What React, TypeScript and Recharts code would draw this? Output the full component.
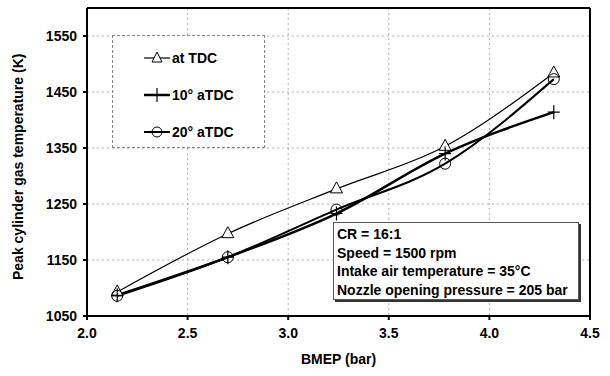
import { ComposedChart, Line, XAxis, YAxis, CartesianGrid, ReferenceLine } from "recharts";

const bmep = [2.15, 2.7, 3.24, 3.78, 4.32];
const atTdc = [1093, 1197, 1277, 1353, 1484];
const deg10 = [1087, 1155, 1233, 1340, 1414];
const deg20 = [1086, 1155, 1240, 1322, 1473];
const xTicks = [2.0, 2.5, 3.0, 3.5, 4.0, 4.5];
const yTicks = [1050, 1150, 1250, 1350, 1450, 1550];
const notes = ["CR = 16:1", "Speed = 1500 rpm", "Intake air temperature = 35°C", "Nozzle opening pressure = 205 bar"];

const data = bmep.map((x, i) => ({ x, tdc: atTdc[i], d10: deg10[i], d20: deg20[i] }));

const font = "'Liberation Sans', Arial, sans-serif";

const Triangle = (props: any) => {
  const { cx, cy } = props;
  if (cx == null || cy == null) return null;
  return <path d={`M${cx},${cy - 7} L${cx + 6},${cy + 4} L${cx - 6},${cy + 4} Z`} fill="#fff" stroke="#000" strokeWidth={1} />;
};

const Plus = (props: any) => {
  const { cx, cy } = props;
  if (cx == null || cy == null) return null;
  return <path d={`M${cx - 6},${cy} H${cx + 6} M${cx},${cy - 7} V${cy + 7}`} stroke="#000" strokeWidth={1.2} fill="none" />;
};

const Ring = (props: any) => {
  const { cx, cy } = props;
  if (cx == null || cy == null) return null;
  return <circle cx={cx} cy={cy} r={5.5} fill="none" stroke="#000" strokeWidth={1} />;
};

const legendItems = [
  { label: "at TDC", icon: "tri", width: 1.2 },
  { label: "10° aTDC", icon: "plus", width: 2.5 },
  { label: "20° aTDC", icon: "ring", width: 2 },
];

export default function App() {
  return (
    <div style={{ position: "absolute", left: 0, top: 0, width: 610, height: 376, background: "#fff" }}>
      <ComposedChart width={610} height={376} data={data} margin={{ top: 8, right: 20, bottom: 0, left: 0 }}>
        <CartesianGrid stroke="#999" strokeDasharray="2 3" strokeWidth={0.8} />
        <XAxis
          dataKey="x"
          type="number"
          domain={[2, 4.5]}
          ticks={xTicks}
          tickFormatter={(v: number) => v.toFixed(1)}
          height={60}
          stroke="#000"
          strokeWidth={2}
          tickSize={4}
          tick={{ fill: "#000", fontFamily: font, fontWeight: "bold", fontSize: 14, dy: 6 }}
          label={{ value: "BMEP (bar)", position: "insideBottom", offset: 12, fill: "#000", fontFamily: font, fontWeight: "bold", fontSize: 14 }}
        />
        <YAxis
          type="number"
          domain={[1050, 1600]}
          ticks={yTicks}
          width={87}
          stroke="#000"
          strokeWidth={2}
          tickSize={4}
          tick={{ fill: "#000", fontFamily: font, fontWeight: "bold", fontSize: 14, dx: -4 }}
          label={{ value: "Peak cylinder gas temperature (K)", angle: -90, position: "insideLeft", offset: 18, dy: 118, fill: "#000", fontFamily: font, fontWeight: "bold", fontSize: 14 }}
        />
        <ReferenceLine y={1600} stroke="#000" strokeWidth={2} />
        <ReferenceLine x={4.5} stroke="#000" strokeWidth={2} />
        <Line type="monotone" dataKey="tdc" name="at TDC" stroke="#000" strokeWidth={1.2} dot={<Triangle />} isAnimationActive={false} />
        <Line type="monotone" dataKey="d10" name="10° aTDC" stroke="#000" strokeWidth={2.5} dot={<Plus />} isAnimationActive={false} />
        <Line type="monotone" dataKey="d20" name="20° aTDC" stroke="#000" strokeWidth={2} dot={<Ring />} isAnimationActive={false} />
      </ComposedChart>
      <div
        style={{
          position: "absolute",
          left: 112,
          top: 35,
          width: 153,
          height: 113,
          border: "1px dashed #888",
          background: "#fff",
          boxSizing: "border-box",
          paddingTop: 3,
        }}
      >
        {legendItems.map((it) => (
          <div key={it.label} style={{ display: "flex", alignItems: "center", height: 37, paddingLeft: 30 }}>
            <svg width={28} height={16}>
              <line x1={1} y1={8} x2={27} y2={8} stroke="#000" strokeWidth={it.width} />
              {it.icon === "tri" && <path d="M14,2 L19,12 L9,12 Z" fill="#fff" stroke="#000" strokeWidth={1} />}
              {it.icon === "plus" && <line x1={14} y1={1} x2={14} y2={15} stroke="#000" strokeWidth={1.2} />}
              {it.icon === "ring" && <circle cx={14} cy={8} r={5} fill="none" stroke="#000" strokeWidth={1} />}
            </svg>
            <span style={{ fontFamily: font, fontWeight: "bold", fontSize: 14, marginLeft: 1 }}>{it.label}</span>
          </div>
        ))}
      </div>
      <div
        style={{
          position: "absolute",
          left: 333,
          top: 222,
          width: 246,
          height: 78,
          border: "1px solid #555",
          boxShadow: "2px 2px 0 #333",
          background: "#fff",
          boxSizing: "border-box",
          padding: "2px 0 0 3px",
          fontFamily: font,
          fontWeight: "bold",
          fontSize: 14,
          lineHeight: "18.5px",
          color: "#000",
        }}
      >
        {notes.map((n) => (
          <div key={n}>{n}</div>
        ))}
      </div>
    </div>
  );
}
